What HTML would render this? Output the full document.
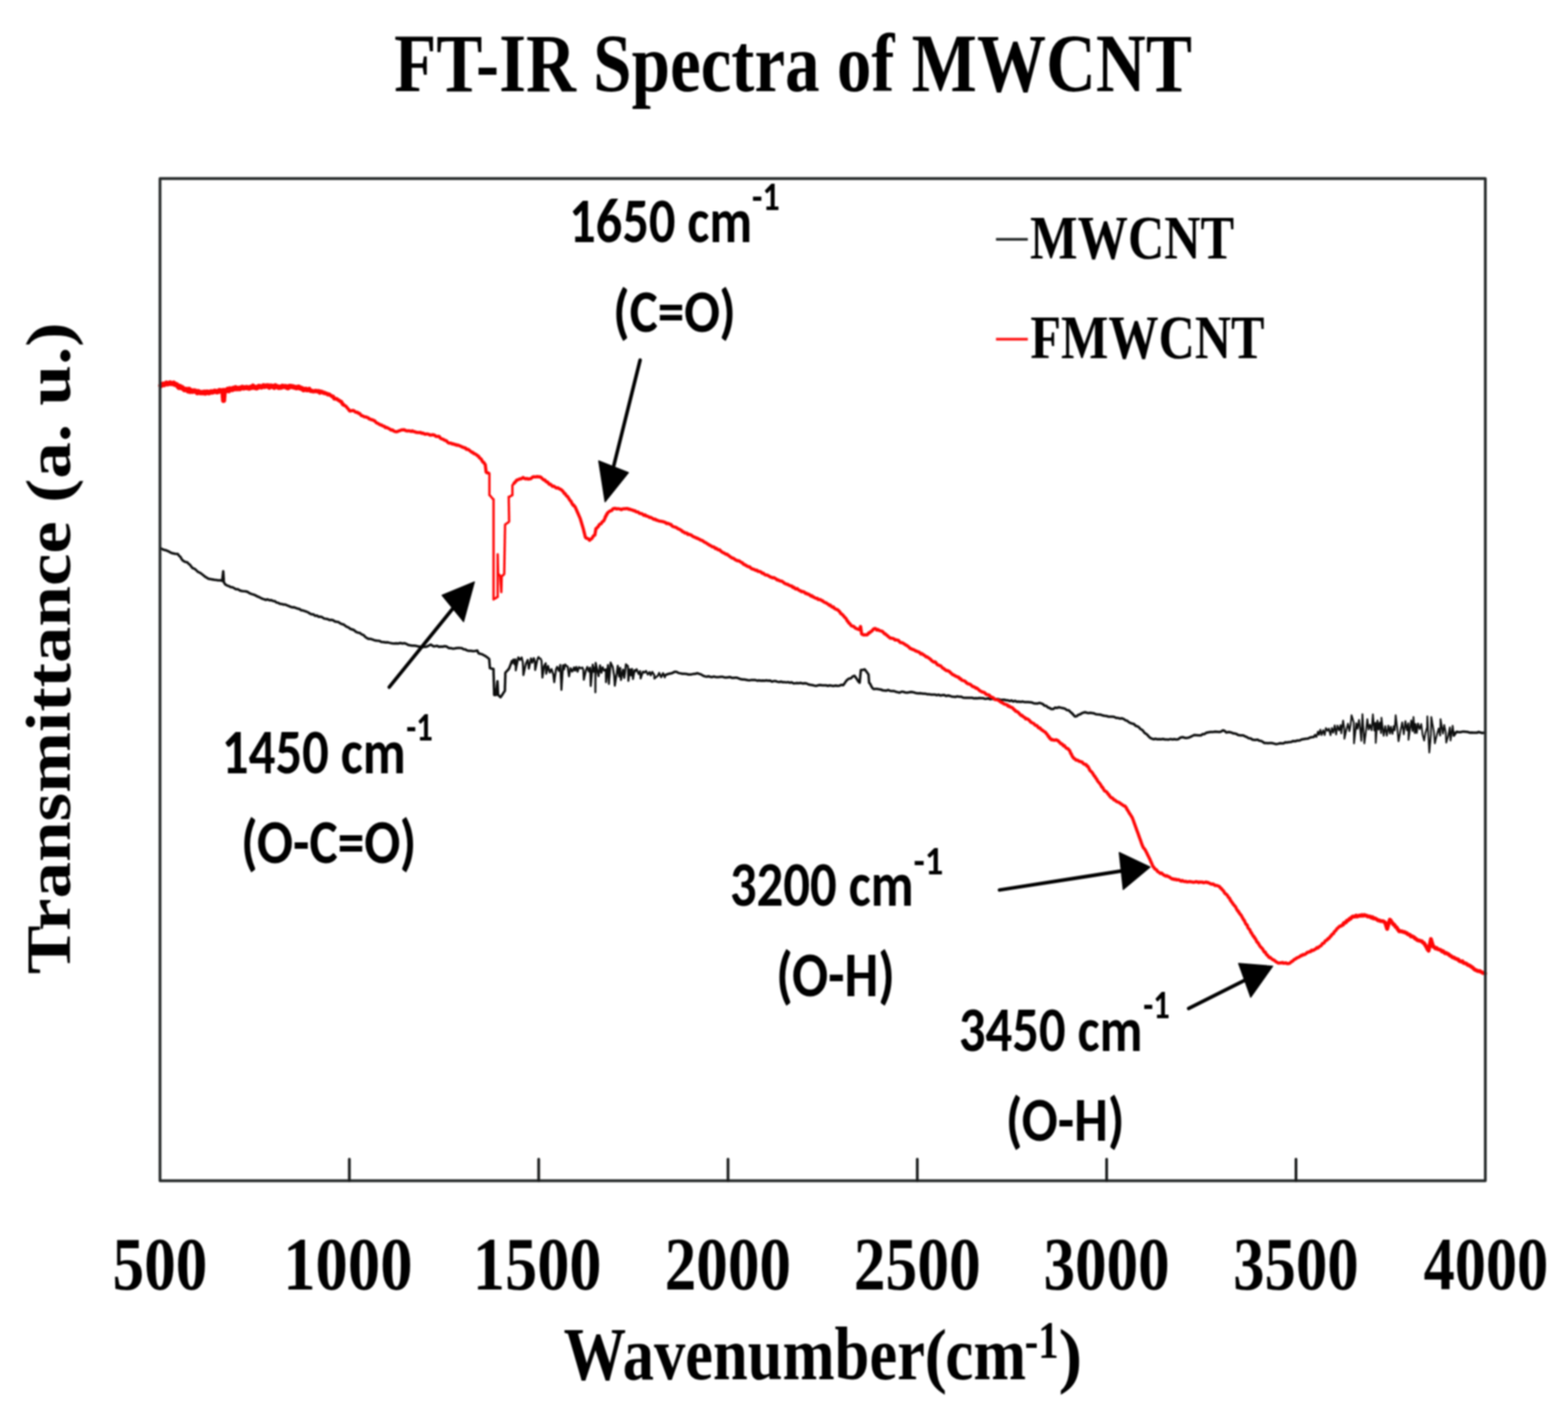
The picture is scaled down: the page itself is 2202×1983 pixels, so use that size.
<!DOCTYPE html><html><head><meta charset="utf-8"><title>FT-IR Spectra of MWCNT</title><style>html,body{margin:0;padding:0;background:#fff;overflow:hidden;}svg{display:block;}#wrap{filter:blur(1px);width:2202px;height:1983px;}</style></head><body><div id="wrap">
<svg width="2202" height="1983" viewBox="0 0 2202 1983">
<rect id="bg" x="0" y="0" width="2202" height="1983" fill="#fff"/>
<g id="curves" fill="none" stroke-linejoin="round" stroke-linecap="round">
<g id="black" stroke="#0c0d0d">
<polyline points="225.2,769.7 227.6,771.0 230.1,772.2 232.5,772.6 235.0,773.7 237.4,774.7 239.9,776.2 242.3,777.1 246.0,777.7 249.7,777.9 251.6,780.7 253.4,782.1 255.2,785.4 257.1,787.5 260.1,789.1 263.0,789.7 264.9,791.8 266.8,793.2 268.6,795.6 270.5,797.9 272.9,798.7 275.2,800.4 277.6,802.9 279.9,804.0 282.3,805.3 284.4,807.0 286.5,808.7 288.5,810.3 290.6,811.4 292.7,812.7 295.5,813.3 298.2,813.7 301.0,814.3 303.7,814.5 306.5,815.1 309.2,814.9 312.0,815.7 312.3,813.0 312.6,810.3 312.9,807.7 313.2,805.0 313.5,802.3 313.7,804.9 313.8,807.5 314.0,810.1 314.2,812.8 314.3,815.4 314.5,818.0 316.5,820.9 319.0,822.3 321.4,823.1 323.9,824.6 326.4,824.8 328.8,826.0 331.3,827.6 334.0,827.6 336.8,829.2 339.5,830.0 342.2,830.3 345.0,830.5 347.7,831.3 350.0,832.8 352.3,833.8 354.6,834.6 356.9,835.2 359.2,836.4 361.5,837.6 363.8,838.5 366.1,839.7 368.4,840.9 370.9,841.6 373.4,842.5 375.9,841.8 378.3,843.0 380.8,842.8 383.3,843.9 385.8,844.2 388.2,846.1 390.7,846.6 393.2,848.0 395.6,848.2 398.1,849.1 400.6,849.0 403.1,850.2 405.6,851.1 408.0,852.2 410.5,852.9 413.0,852.8 415.5,853.8 417.9,854.7 420.4,855.2 422.9,857.0 425.3,857.3 427.8,858.2 430.3,859.0 432.7,860.0 435.2,861.7 437.7,862.8 440.2,862.8 442.6,864.8 445.1,864.4 447.6,866.3 450.1,866.1 452.5,866.8 455.0,868.6 457.5,869.1 460.0,869.4 462.6,870.7 465.1,870.6 467.7,871.0 470.2,872.7 472.8,873.3 475.3,873.6 477.7,875.4 480.1,876.5 482.5,876.9 485.0,879.0 487.4,880.4 489.8,881.3 492.2,883.3 494.6,884.0 497.3,885.0 499.9,887.4 502.6,888.4 505.2,888.8 507.9,890.9 510.4,891.8 512.8,894.3 515.3,896.1 517.8,897.3 520.8,897.3 523.8,898.3 526.7,899.5 529.7,899.8 532.7,900.0 535.7,901.6 538.6,901.7 541.6,902.3 544.5,902.1 547.5,902.9 550.5,903.5 553.4,903.8 556.4,903.6 559.4,903.8 562.3,903.0 565.3,903.8 568.3,903.3 570.8,904.3 573.2,905.7 576.0,906.3 578.8,906.7 581.5,906.8 584.3,907.1 587.1,907.7 590.1,908.2 593.0,908.6 596.0,908.5 599.0,908.2 602.0,906.8 604.9,905.2 608.9,907.7 611.4,907.4 614.0,907.1 616.5,908.4 619.1,908.0 621.6,908.2 624.2,907.5 626.7,907.7 630.6,910.2 633.1,910.3 635.7,910.9 638.2,910.7 640.8,910.3 643.3,909.9 645.9,910.1 648.4,910.2 650.9,911.7 653.3,912.0 655.8,913.4 658.3,914.1 661.3,914.1 664.2,914.4 667.2,914.2 670.2,913.6 672.2,917.6 674.7,918.3 677.2,918.9 679.6,920.3 682.1,921.6 684.5,923.4 687.0,925.5 687.2,928.1 687.4,930.7 687.6,933.2 687.8,935.8 688.0,938.4 690.5,939.0 693.0,939.4 693.1,942.0 693.1,944.6 693.2,947.2 693.3,949.9 693.4,952.5 693.4,955.1 693.5,957.7 693.6,960.3 693.6,962.9 693.7,965.5 693.8,968.2 693.9,970.8 693.9,973.4 694.0,976.0 696.4,976.1 696.7,973.3 697.0,970.6 697.3,967.8 697.7,965.1 698.0,962.3 698.3,959.6 698.6,956.8 698.7,959.5 698.9,962.3 699.0,965.0 699.1,967.8 699.2,970.5 699.4,973.3 699.5,976.0 703.0,979.1 704.5,976.9 706.0,974.7 707.5,972.4 709.0,970.2 709.1,967.7 709.1,965.1 709.2,962.6 709.3,960.1 709.4,957.5 709.4,955.0 709.5,952.5 709.6,950.0 709.6,947.4 709.7,944.9 711.4,942.9 713.2,941.0 714.9,939.0 715.9,936.4 716.9,933.8 717.9,931.1 718.9,928.5 719.0,931.1" stroke-width="3.5"/>
<polyline points="718.9,928.5 719.0,931.1 720.1,928.6 721.1,926.1 721.9,929.6 722.7,933.1 723.4,929.5 724.0,925.9 724.1,928.5 724.1,931.1 724.2,933.7 724.2,936.4 724.3,939.0 724.3,941.6 724.8,939.0 725.3,936.3 725.8,933.7 726.4,931.0 726.9,928.4 727.4,925.8 727.9,923.1 730.2,926.8 732.6,923.3 733.4,926.8 734.2,930.2 734.3,932.8 734.5,935.3 734.6,937.9 734.7,940.4 734.8,943.0 734.9,945.5 735.0,948.1 735.6,945.4 736.2,942.7 736.8,940.0 737.4,937.3 738.0,934.6 738.6,931.9 739.8,929.3 741.1,926.7 741.4,929.2 741.8,931.7 742.1,934.2 742.4,936.7 742.7,939.2 743.3,936.3 743.9,933.4 744.5,930.5 745.1,927.6 745.7,924.7 746.7,927.7 747.6,930.7 748.6,927.5 749.6,924.3 751.2,929.0 751.3,932.0 751.4,935.0 751.5,938.0 751.6,941.0 752.2,938.3 752.8,935.6 753.3,932.9 753.9,930.2 754.5,927.5 755.1,924.9 756.3,922.6 756.5,924.5 759.0,924.8 760.5,928.0 760.6,930.6 760.8,933.2 760.9,935.9 761.0,938.5 761.2,941.1 761.3,943.8 761.4,946.4 761.6,949.1 761.7,951.7 762.1,949.0 762.5,946.4 762.9,943.7 763.3,941.0 763.7,938.4 764.0,935.7 766.3,931.4 766.4,934.4 766.6,937.3 766.7,940.3 766.9,943.3 767.0,946.3 767.7,943.6 768.4,940.8 769.0,938.1 769.7,935.3 770.5,938.4 771.3,941.4 772.1,944.5 773.3,942.1 774.5,939.7 775.3,942.1 776.1,944.5 777.0,946.9 777.3,949.7 777.6,952.6 778.0,955.4 778.3,958.2 778.7,955.6 779.0,952.9 779.4,950.3 779.8,947.7 780.2,945.1 780.5,942.4 780.9,939.8 782.4,936.5 783.6,939.3 784.8,942.2 785.5,939.4 786.2,936.6 786.9,933.8 787.0,936.3 787.1,938.8 787.2,941.3 787.3,943.8 787.4,946.3 787.5,948.8 787.6,951.3 787.8,953.8 787.9,956.4 788.0,958.9 788.1,961.4 788.2,963.9 788.3,966.4 788.4,968.9 788.6,966.2 788.8,963.5 788.9,960.9 789.1,958.2 789.3,955.5 789.5,952.8 789.6,950.1 789.8,947.5 790.0,944.8 790.2,942.1 790.3,939.4 790.5,936.7 790.7,934.1 791.4,937.1 792.1,940.2 792.9,936.6 793.7,933.1 795.5,935.3 797.2,936.1 797.6,938.8 797.9,941.6 798.3,944.4 798.7,947.1 799.1,949.9 799.6,947.0 800.1,944.2 800.7,941.3 801.2,938.4 802.5,940.7 803.7,943.1 804.9,940.2 806.1,937.3 807.5,941.9 808.4,939.2 809.3,936.6 810.2,940.0 811.1,943.4 812.1,940.1 813.1,936.9 815.5,938.5 817.9,937.5 819.2,940.7 819.3,943.5 819.5,946.3 819.6,949.1 819.8,951.8 819.9,954.6 820.5,951.9 821.1,949.2 821.8,946.5 822.4,943.8 823.0,941.0 824.8,936.6 825.9,939.8 826.9,943.0 827.8,940.3 828.7,937.6 828.8,940.2 828.9,942.7 829.0,945.3 829.1,947.9 829.2,950.5 829.3,953.1 829.3,955.7 829.4,958.2 829.5,960.8 829.6,963.4 829.8,960.9 830.1,958.4 830.3,955.9 830.5,953.4 830.8,950.9 831.0,948.4 831.3,945.9 831.5,943.4 831.7,940.9 832.0,938.4 832.2,935.9 832.4,933.4 832.8,935.9 833.2,938.4 833.6,940.9 834.0,943.4 835.0,939.9 836.0,936.5 836.0,939.1 836.0,941.6 836.0,944.2 836.0,946.7 836.1,949.3 836.1,951.8 836.1,954.4 836.1,957.0 836.1,959.5 836.1,962.1 836.1,964.6 836.1,967.2 836.1,969.7 836.1,972.3 836.1,969.7 836.1,967.1 836.2,964.5 836.2,961.9 836.2,959.3 836.2,956.7 836.3,954.1 836.3,951.5 836.3,949.0 836.4,946.4 836.4,943.8 836.4,941.2 836.4,938.6 836.5,936.0 836.5,933.4 836.5,930.8 837.1,933.5 837.7,936.2 838.3,938.9 838.9,941.6 839.4,944.3 840.0,947.0 840.6,949.7 841.0,947.1 841.3,944.6 841.6,942.1 842.0,939.5 842.3,937.0 842.7,934.5 843.1,937.1 843.6,939.7 844.1,942.3 844.6,944.9 845.2,942.4 845.7,939.8 846.3,937.2 847.4,939.6 848.6,941.9 850.8,939.9 850.9,942.5 850.9,945.0 850.9,947.6 850.9,950.2 851.0,952.8 851.0,955.4 851.0,958.0 851.3,955.3 851.6,952.6 851.9,950.0 852.2,947.3 852.6,944.6 852.9,941.9 853.2,939.2 853.5,936.6 853.8,933.9 853.9,936.5 854.1,939.2 854.2,941.9 854.3,944.5 854.4,947.2 854.6,949.8 854.7,952.5 854.8,955.2 855.0,957.8 855.1,960.5 855.3,957.9 855.5,955.2 855.7,952.6 856.0,950.0 856.2,947.3 856.4,944.7 856.6,942.1 856.8,939.4 857.0,936.8 857.2,934.2 857.5,930.5 859.0,933.6 860.5,936.8 860.9,939.4 861.3,942.0 861.7,944.6 862.2,947.3 862.6,949.9 862.7,952.5 862.9,955.1 863.1,957.8 863.2,960.4 863.4,963.0 863.8,960.5 864.2,958.0 864.6,955.4 865.0,952.9 865.4,950.4 865.8,947.9 866.2,945.4 866.5,942.8 866.9,940.1 867.2,937.5 867.6,934.9 867.9,937.5 868.2,940.0 868.6,942.5 868.9,945.0 869.2,947.6 869.6,950.1 869.9,947.1 870.3,944.0 870.6,941.0 871.0,937.9 871.1,940.8 871.3,943.6 871.5,946.5 871.7,949.3 871.8,952.2 872.0,955.0 872.6,952.1 873.2,949.1 873.8,946.2 874.4,943.2 875.0,940.3 875.4,943.2 875.9,946.2 876.3,949.1 876.7,952.0 877.1,949.0 877.5,946.0 877.9,943.0 878.2,940.0 878.6,936.5 879.0,933.0 881.8,935.6 881.9,938.2 882.0,940.8 882.0,943.4 882.1,946.0 882.2,948.5 882.3,951.1 882.3,953.7 882.4,956.3 882.8,953.6 883.1,950.8 883.5,948.1 883.9,945.4 884.2,942.6 884.6,939.9 885.1,942.8 885.7,945.6 886.2,948.5 886.7,945.5 887.1,942.5 887.6,939.5 887.9,942.3 888.2,945.1 888.4,947.9 888.7,950.8 889.0,953.6 889.4,951.1 889.8,948.6 890.3,946.2 890.7,943.7 891.1,941.2 892.0,943.0 894.1,939.8 895.4,943.2 896.8,946.5 898.9,942.5 899.1,945.1 899.3,947.7 899.5,950.2 899.7,952.8 900.5,950.4 901.4,947.9 902.2,945.5 903.0,943.1 905.1,944.6 907.2,942.2 908.5,944.8 909.8,947.3 912.2,943.8 913.9,948.4 915.0,946.0 916.0,943.6 917.5,945.9 918.9,948.3 919.0,953.0 921.4,951.0 923.9,948.9 925.7,945.0 927.1,948.1 928.5,951.1 929.8,948.3 931.1,945.4 932.3,948.3 933.6,951.2 934.6,947.9 934.6,947.9" stroke-width="2.8"/>
<polyline points="934.6,947.9 934.6,947.9 937.1,947.0 939.6,946.2 942.1,945.8 944.6,945.0 947.1,943.6 949.9,943.5 952.7,945.1 955.5,945.6 958.3,946.2 961.1,946.3 963.9,946.4 966.7,947.2 969.2,947.3 971.7,946.9 974.2,946.4 976.7,946.3 979.2,945.4 981.9,946.3 984.5,947.1 987.2,948.9 989.9,949.9 992.4,950.4 994.9,949.7 997.4,950.6 999.9,950.9 1002.5,950.1 1005.0,950.7 1007.5,950.9 1010.0,950.7 1012.5,950.4 1015.0,950.6 1017.5,951.4 1020.0,951.6 1022.6,951.2 1025.1,950.8 1027.6,951.9 1030.1,952.0 1032.6,951.7 1035.1,951.8 1037.7,952.8 1040.2,953.8 1042.8,954.2 1045.3,954.2 1047.9,954.7 1050.4,955.2 1053.0,955.4 1055.6,954.9 1058.2,955.0 1060.8,955.1 1063.4,955.9 1065.9,955.5 1068.5,955.9 1071.1,955.7 1073.7,956.0 1076.3,955.5 1078.9,956.1 1081.4,955.7 1084.0,957.2 1086.5,956.6 1089.0,956.4 1091.5,957.4 1094.1,957.9 1096.6,957.2 1099.1,958.0 1101.6,957.9 1104.2,958.4 1106.7,957.9 1109.2,958.8 1111.8,958.2 1114.4,959.7 1116.9,959.6 1119.5,959.2 1122.1,959.4 1124.7,959.1 1127.2,959.9 1129.8,959.5 1132.4,959.7 1135.4,961.2 1138.3,961.8 1141.3,962.3 1144.0,962.9 1146.7,963.2 1149.3,962.3 1152.0,962.1 1154.7,962.4 1157.3,962.5 1160.0,962.5 1162.7,963.2 1165.4,962.5 1168.0,963.1 1170.7,963.4 1173.3,962.7 1176.0,963.3 1178.7,963.1 1181.3,961.8 1184.0,962.3 1185.8,960.1 1187.6,957.4 1189.4,955.2 1192.1,953.1 1194.7,952.7 1197.3,950.2 1200.0,949.0 1201.8,951.5 1203.6,954.1 1205.4,957.0 1207.2,958.8 1207.5,956.3 1207.7,953.7 1208.0,951.2 1208.2,948.6 1208.5,946.1 1208.7,943.5 1209.0,941.0 1211.7,940.8 1214.3,940.1 1216.1,942.3 1217.9,944.8 1219.7,947.2 1219.9,950.1 1220.1,953.0 1220.3,955.9 1220.5,958.8 1222.1,960.5 1223.7,963.9 1225.2,966.2 1226.8,967.7 1229.4,967.6 1232.0,967.5 1234.6,968.1 1237.2,968.5 1239.8,969.5 1242.3,969.7 1244.9,969.9 1247.5,969.0 1250.1,970.3 1252.7,970.4 1255.3,970.4 1257.9,971.5 1260.6,972.1 1263.3,972.8 1265.9,971.5 1268.6,971.6 1271.3,972.5 1274.0,972.7 1276.7,972.3 1279.3,971.8 1282.0,972.1 1284.7,972.8 1287.3,973.6 1290.0,973.8 1292.5,973.5 1295.0,974.1 1297.5,974.2 1300.1,974.3 1302.6,975.1 1305.1,974.9 1307.6,975.6 1310.2,975.4 1312.9,975.4 1315.5,976.4 1318.1,975.6 1320.8,976.8 1323.4,976.2 1326.0,976.1 1328.6,977.6 1331.3,976.7 1333.9,977.3 1336.5,978.2 1339.2,978.4 1341.8,978.7 1344.5,977.9 1347.1,978.6 1349.7,978.4 1352.4,979.8 1355.0,979.9 1357.7,979.9 1360.3,980.0 1362.8,980.1 1365.3,980.0 1367.8,980.8 1370.4,980.5 1372.9,980.8 1375.4,980.2 1377.9,980.5 1380.4,980.4 1382.9,981.4 1385.4,981.3 1388.0,980.8 1390.5,982.0 1393.0,981.3 1395.5,981.7 1398.0,981.8 1400.5,981.7 1403.0,982.2 1405.5,983.2 1408.0,982.8 1410.5,982.8 1413.0,983.5 1415.6,983.5 1418.1,984.6 1420.6,983.7 1423.1,985.2 1425.6,984.2 1428.1,985.6 1430.6,985.3 1433.2,985.8 1435.9,985.3 1438.5,985.9 1441.2,985.9 1443.8,986.0 1446.4,986.2 1449.1,986.6 1451.7,987.7 1454.4,987.9 1457.0,988.1 1459.7,987.1 1462.3,987.9 1464.6,988.9 1467.0,991.1 1469.3,991.2 1471.6,993.5 1474.0,994.2 1476.3,995.8 1479.0,995.8 1481.6,993.8 1484.2,994.3 1486.9,993.2 1489.7,993.9 1492.5,994.5 1495.3,995.1 1498.1,997.2 1500.9,997.6 1503.1,999.8 1505.3,1001.5 1507.5,1004.0 1509.7,1006.3 1512.0,1005.9 1514.4,1003.9 1516.8,1003.3 1519.1,1001.7 1521.5,1000.8 1523.8,1000.2 1526.3,1001.0 1528.8,1001.4 1531.3,1001.1 1533.8,1001.4 1536.3,1001.8 1538.8,1003.0 1541.2,1003.3 1543.7,1003.4 1546.2,1003.8 1548.7,1004.8 1551.2,1005.3 1553.7,1005.5 1556.4,1006.4 1559.2,1006.6 1561.9,1006.5 1564.6,1006.8 1567.4,1008.3 1570.1,1008.3 1572.8,1009.2 1575.6,1008.8 1578.3,1009.9 1580.6,1011.6 1583.0,1012.2 1585.3,1014.2 1587.7,1015.5 1590.0,1016.2 1592.4,1016.8 1594.7,1019.3 1597.1,1020.0 1599.4,1021.3 1601.4,1023.7 1603.4,1024.7 1605.3,1026.4 1607.3,1029.2 1609.3,1030.4 1611.2,1032.0 1613.2,1034.2 1615.2,1036.2 1617.6,1037.3 1620.0,1038.2 1622.6,1037.5 1625.3,1038.2 1627.9,1038.1 1630.6,1038.2 1633.2,1037.7 1635.9,1038.5 1638.5,1038.6 1641.2,1038.7 1643.8,1037.9 1646.5,1038.5 1649.1,1038.0 1651.8,1038.6 1654.4,1038.2 1658.0,1035.8 1661.0,1035.2 1664.0,1036.3 1666.9,1036.4 1669.9,1035.8 1672.3,1034.6 1674.6,1033.5 1677.0,1032.3 1680.2,1032.5 1683.3,1032.7 1686.5,1032.8 1688.9,1031.0 1691.2,1031.1 1693.6,1029.3 1696.8,1028.5 1699.9,1028.1 1703.1,1028.1 1706.3,1027.5 1709.4,1027.8 1712.6,1028.1 1715.0,1027.3 1717.4,1025.7 1719.8,1026.5 1722.1,1028.7 1725.7,1028.1 1729.3,1028.7 1731.7,1029.9 1734.0,1030.1 1736.4,1030.7 1738.8,1032.3 1742.3,1032.7 1745.9,1032.8 1748.5,1034.1 1751.1,1035.2 1753.7,1036.7 1756.3,1037.0 1758.9,1038.8 1762.5,1039.3 1766.1,1038.8 1768.5,1040.3 1770.8,1040.5 1773.2,1041.8 1775.6,1043.5 1778.2,1043.6 1780.8,1043.7 1783.4,1043.6 1786.0,1043.5 1788.6,1044.1 1792.2,1045.1 1794.7,1044.6 1797.3,1043.8 1799.8,1044.0 1802.4,1044.0 1804.9,1042.6 1807.5,1042.8 1810.0,1042.3 1813.0,1042.1 1816.0,1040.7 1818.9,1041.0 1821.9,1040.0 1824.9,1040.0 1827.8,1038.6 1830.8,1038.1 1833.8,1037.6 1836.6,1037.3 1839.3,1036.0 1842.1,1035.2 1845.0,1035.0 1847.0,1032.3" stroke-width="3.5"/>
<polyline points="1845.0,1035.0 1847.0,1032.3 1848.8,1035.0 1849.4,1032.5 1850.1,1030.0 1850.8,1027.5 1852.4,1032.1 1853.0,1029.7 1853.6,1027.2 1854.2,1024.7 1854.8,1027.3 1855.4,1029.8 1856.0,1032.4 1857.1,1028.9 1858.3,1025.5 1859.3,1029.0 1860.3,1032.4 1860.7,1029.9 1861.2,1027.4 1861.6,1024.9 1862.0,1022.4 1864.4,1026.4 1866.3,1023.2 1867.0,1026.3 1867.7,1029.4 1868.5,1032.5 1868.9,1030.0 1869.4,1027.5 1869.9,1025.0 1870.3,1022.5 1871.3,1025.8 1872.3,1029.1 1872.8,1026.5 1873.3,1023.9 1873.8,1021.3 1874.4,1018.7 1874.8,1021.3 1875.2,1023.9 1875.6,1026.5 1876.0,1029.1 1876.4,1031.6 1876.7,1029.1 1877.1,1026.5 1877.5,1024.0 1877.9,1021.4 1878.2,1018.9 1879.4,1022.3 1880.6,1025.8 1881.3,1023.3 1881.9,1020.8 1882.6,1018.3 1882.9,1021.2 1883.1,1024.1 1883.4,1027.1 1883.6,1030.0 1884.0,1027.4 1884.3,1024.8 1884.7,1022.3 1885.1,1019.7 1885.5,1017.1 1885.8,1014.5 1886.2,1011.9 1886.6,1014.9 1887.0,1017.8 1887.5,1020.8 1887.9,1023.7 1887.9,1026.5 1887.9,1029.2 1888.0,1032.0 1888.0,1034.7 1888.0,1037.5 1888.6,1034.6 1889.3,1031.7 1889.9,1028.8 1890.6,1025.9 1891.2,1023.0 1892.1,1019.7 1893.0,1016.3 1893.5,1019.0 1894.0,1021.6 1894.5,1024.2 1895.1,1026.9 1895.6,1024.0 1896.1,1021.0 1896.7,1018.1 1896.9,1015.4 1897.2,1012.6 1897.5,1009.9 1897.7,1007.1 1898.0,1004.4 1898.8,1006.9 1899.6,1009.4 1900.3,1011.9 1901.1,1014.5 1901.1,1017.1 1901.2,1019.8 1901.2,1022.5 1901.2,1025.2 1901.3,1027.9 1901.3,1030.6 1901.4,1033.3 1901.4,1035.9 1901.4,1038.6 1901.5,1041.3 1901.5,1044.0 1901.8,1041.4 1902.1,1038.9 1902.4,1036.3 1902.7,1033.7 1903.0,1031.1 1903.3,1028.6 1903.6,1026.0 1903.9,1023.4 1904.2,1020.8 1904.5,1018.3 1904.8,1015.7 1905.3,1018.3 1905.8,1020.9 1906.4,1023.5 1906.8,1020.9 1907.2,1018.4 1907.7,1015.9 1908.1,1013.4 1908.5,1010.9 1908.8,1013.6 1909.2,1016.3 1909.5,1019.1 1909.8,1021.8 1910.2,1024.5 1910.5,1027.3 1910.7,1029.9 1911.0,1032.6 1911.2,1035.2 1911.5,1037.9 1911.7,1040.5 1911.8,1038.0 1911.9,1035.5 1912.0,1033.0 1912.1,1030.5 1912.2,1028.0 1912.3,1025.5 1912.4,1023.0 1912.6,1020.5 1912.7,1018.0 1912.8,1015.5 1912.9,1013.0 1913.0,1010.5 1913.1,1008.0 1913.2,1005.5 1913.3,1003.0 1913.5,1005.6 1913.6,1008.1 1913.8,1010.7 1914.0,1013.2 1914.1,1015.8 1914.3,1018.4 1914.5,1020.9 1914.7,1023.5 1914.8,1026.1 1915.0,1028.6 1915.2,1031.2 1915.3,1033.8 1915.5,1036.3 1915.7,1038.9 1915.8,1041.4 1916.0,1044.0 1916.3,1041.5 1916.7,1038.9 1917.0,1036.4 1917.4,1033.9 1917.7,1031.3 1918.0,1028.8 1918.3,1026.1 1918.7,1023.4 1919.0,1020.8 1919.3,1018.1 1919.6,1015.4 1919.9,1012.7 1920.2,1010.0 1920.6,1013.0 1921.0,1015.9 1921.3,1018.8 1921.7,1021.7 1922.0,1024.6 1923.0,1021.2 1923.9,1017.8 1924.7,1020.4 1925.4,1023.0 1926.2,1025.6 1926.4,1022.8 1926.6,1020.0 1926.9,1017.2 1927.1,1014.4 1927.3,1011.6 1927.5,1008.9 1927.8,1006.1 1928.0,1003.3 1928.2,1005.8 1928.4,1008.3 1928.7,1010.9 1928.9,1013.4 1929.1,1015.9 1929.3,1018.4 1929.6,1021.0 1929.8,1023.5 1930.0,1026.0 1930.4,1023.2 1930.8,1020.5 1931.2,1017.7 1931.6,1014.9 1931.6,1017.5 1931.6,1020.1 1931.7,1022.7 1931.7,1025.3 1931.8,1027.8 1931.8,1030.4 1931.8,1033.0 1931.9,1035.6 1931.9,1038.2 1932.0,1040.8 1932.0,1043.4 1932.2,1040.8 1932.4,1038.1 1932.6,1035.5 1932.8,1032.9 1933.0,1030.2 1933.2,1027.6 1933.4,1025.0 1933.6,1022.3 1933.8,1019.7 1934.0,1017.0 1934.2,1014.4 1934.4,1011.8 1934.7,1014.4 1935.0,1017.0 1935.3,1019.6 1935.7,1022.1 1936.0,1024.7 1936.4,1022.2 1936.8,1019.7 1937.2,1017.1 1937.6,1014.6 1937.9,1017.1 1938.2,1019.6 1938.5,1022.1 1938.8,1024.6 1939.1,1027.1 1939.4,1029.6 1939.5,1026.9 1939.5,1024.2 1939.6,1021.5 1939.7,1018.8 1939.8,1016.1 1939.8,1013.4 1939.9,1010.7 1940.0,1008.0 1940.3,1010.5 1940.6,1013.1 1940.9,1015.6 1941.2,1018.1 1941.6,1020.7 1941.9,1023.2 1942.2,1025.7 1942.5,1028.2 1942.8,1030.8 1943.1,1033.3 1943.6,1030.6 1944.0,1027.8 1944.5,1025.1 1944.9,1022.4 1945.4,1019.6 1945.8,1022.4 1946.2,1025.1 1946.7,1027.8 1947.1,1030.5 1947.6,1033.2 1948.0,1030.4 1948.4,1027.5 1948.9,1024.7 1949.3,1021.8 1949.7,1018.9 1950.3,1021.8 1950.8,1024.6 1951.4,1027.4 1951.9,1030.2 1952.4,1027.0 1952.8,1023.8 1953.3,1020.5 1953.8,1023.1 1954.4,1025.6 1955.0,1028.1 1955.6,1030.7 1956.0,1027.9 1956.4,1025.2 1956.8,1022.5 1957.2,1019.7 1957.9,1022.7 1958.6,1025.7 1958.8,1023.1 1959.0,1020.4 1959.1,1017.7 1959.3,1015.1 1959.5,1012.4 1959.7,1009.7 1959.8,1007.1 1960.0,1004.4 1960.3,1007.0 1960.6,1009.5 1960.9,1012.1 1961.2,1014.6 1961.5,1017.2 1961.9,1019.8 1962.2,1022.3 1962.5,1024.9 1962.7,1027.6 1963.0,1030.3 1963.2,1032.9 1963.5,1035.6 1963.7,1038.3 1964.0,1041.0 1964.5,1038.4 1965.0,1035.7 1965.5,1033.1 1966.0,1030.5 1966.4,1027.8 1966.9,1025.2 1967.5,1022.5 1968.1,1019.9 1968.6,1017.2 1969.2,1014.5 1969.6,1017.3 1969.9,1020.1 1970.3,1022.9 1970.7,1025.7 1971.0,1028.5 1971.4,1031.3 1971.7,1028.6 1972.0,1026.0 1972.4,1023.3 1972.7,1020.7 1973.0,1018.0 1973.3,1015.3 1973.7,1012.7 1974.1,1015.3 1974.6,1017.9 1975.0,1020.5 1975.4,1023.1 1975.9,1025.8 1976.4,1023.2 1976.9,1020.7 1977.4,1018.1 1977.9,1015.6 1978.0,1018.2 1978.0,1020.8 1978.0,1023.4 1978.0,1026.0 1978.0,1028.6 1978.0,1031.2 1978.0,1033.8 1978.0,1036.4 1978.0,1039.0 1978.4,1036.3 1978.8,1033.6 1979.2,1030.9 1979.5,1028.1 1979.9,1025.4 1980.3,1022.7 1980.7,1020.0 1981.1,1017.3 1981.5,1014.6 1981.8,1011.8 1982.2,1014.3 1982.5,1016.8 1982.8,1019.3 1983.1,1021.8 1983.4,1024.3 1983.8,1026.8 1983.9,1023.9 1984.1,1021.1 1984.3,1018.3 1984.5,1015.5 1984.6,1012.6 1984.8,1009.8 1985.0,1007.0 1985.2,1009.5 1985.4,1012.0 1985.6,1014.5 1985.8,1017.0 1986.0,1019.5 1986.2,1022.1 1986.4,1024.6 1986.6,1027.1 1986.8,1029.6 1987.0,1027.0 1987.3,1024.4 1987.6,1021.8 1987.9,1019.2 1988.1,1016.6 1988.4,1019.2 1988.7,1021.8 1989.0,1024.4 1989.3,1027.0 1989.6,1029.6 1990.0,1026.9 1990.3,1024.1 1990.7,1021.4 1991.1,1018.6 1991.4,1015.9 1992.2,1018.5 1992.9,1021.2 1993.7,1023.9 1994.4,1021.5 1995.2,1019.1 1995.9,1016.8 1996.2,1019.3 1996.6,1021.8 1996.9,1024.3 1997.2,1026.9 1997.5,1029.4 1997.8,1031.9 1998.6,1034.6 1999.3,1037.3 2000.0,1040.0 2000.4,1037.3 2000.9,1034.6 2001.3,1031.9 2001.8,1029.2 2002.6,1026.6 2003.3,1024.0 2004.1,1021.5 2004.2,1018.9 2004.2,1016.3 2004.3,1013.7 2004.4,1011.2 2004.4,1008.6 2004.5,1006.0 2004.6,1008.5 2004.8,1011.1 2004.9,1013.6 2005.0,1016.2 2005.2,1018.8 2005.3,1021.3 2005.4,1023.9 2005.6,1026.4 2005.7,1029.0 2005.8,1031.5 2006.0,1034.0 2006.1,1036.6 2006.3,1039.2 2006.4,1041.7 2006.5,1044.2 2006.7,1046.8 2006.8,1049.3 2006.9,1051.9 2007.1,1054.5 2007.2,1057.0 2007.4,1054.5 2007.7,1052.0 2007.9,1049.5 2008.1,1047.0 2008.3,1044.5 2008.6,1042.0 2008.8,1039.5 2009.0,1037.0 2009.2,1034.5 2009.5,1032.0 2009.5,1029.2 2009.6,1026.4 2009.6,1023.7 2009.7,1020.9 2009.8,1018.1 2009.8,1015.3 2009.9,1012.6 2009.9,1009.8 2010.0,1007.0 2010.5,1009.7 2011.0,1012.5 2011.4,1015.2 2011.9,1018.0 2012.4,1020.7 2012.9,1023.5 2013.4,1026.2 2013.8,1029.0 2014.0,1031.5 2014.2,1034.0 2014.4,1036.5 2014.6,1039.0 2014.8,1041.5 2015.0,1044.0 2015.6,1041.4 2016.2,1038.8 2016.8,1036.3 2017.5,1033.7 2018.1,1031.1 2018.8,1028.4 2019.6,1025.8 2020.4,1023.1 2020.9,1025.6 2021.4,1028.1 2021.9,1030.6 2022.5,1033.1 2022.5,1030.5 2022.6,1028.0 2022.6,1025.4 2022.7,1022.8 2022.8,1020.3 2022.8,1017.7 2022.9,1015.1 2022.9,1012.6 2023.0,1010.0 2023.4,1012.5 2023.8,1015.1 2024.3,1017.6 2024.7,1020.1 2025.1,1022.7 2025.5,1025.2 2025.9,1027.7 2026.4,1030.3 2026.8,1027.3 2027.3,1024.3 2027.7,1021.2 2028.2,1018.2 2028.7,1020.8 2029.3,1023.5 2029.8,1026.1 2030.3,1028.7 2030.5,1031.6 2030.6,1034.4 2030.7,1037.3 2030.9,1040.1 2031.0,1043.0 2031.7,1040.5 2032.4,1038.0 2033.2,1035.6 2033.9,1033.1 2034.4,1030.1 2035.0,1027.2 2035.5,1024.3 2036.1,1021.4 2036.2,1024.0 2036.4,1026.7 2036.5,1029.3 2036.6,1032.0 2036.7,1034.7 2036.9,1037.3 2037.0,1040.0 2037.4,1037.4 2037.8,1034.8 2038.1,1032.2 2038.5,1029.7 2038.9,1027.1 2039.3,1024.5 2039.7,1021.9 2040.0,1019.3 2040.4,1022.1 2040.7,1024.8 2041.0,1027.6 2041.3,1030.3 2041.6,1033.1" stroke-width="2.4"/>
<polyline points="2041.0,1027.6 2041.3,1030.3 2041.6,1033.1 2043.7,1030.2 2045.8,1027.6 2048.4,1028.3 2050.9,1028.2 2053.5,1027.6 2056.1,1027.6 2058.7,1027.8 2061.2,1028.0 2063.8,1028.9 2066.4,1028.7 2069.0,1029.0 2071.5,1028.9 2074.1,1029.0 2076.7,1028.0 2079.3,1028.8 2081.8,1029.5 2084.4,1028.9 2085.7,1028.9" stroke-width="3.5"/>
</g>
<g id="red" stroke="#ff0606">
<polyline points="225.9,541.6 227.4,540.5 228.9,539.5 230.4,540.3 231.9,539.3 233.6,538.0 235.4,539.2 237.1,538.6 238.8,537.6 240.6,538.7 242.3,538.6 243.8,538.0 245.2,539.9 246.7,539.6 248.2,540.4 249.7,542.1 251.2,543.9 252.6,542.7 254.1,544.5 255.7,544.2 257.4,545.9 259.0,547.3 260.7,546.8 262.3,546.8 263.9,549.0 265.6,546.9 267.2,549.7 268.9,548.6 270.5,549.7 272.1,548.9 273.7,549.0 275.4,549.8 277.0,551.4 278.6,549.9 280.2,551.2 281.8,551.6 283.4,551.0 285.1,551.7 286.7,550.6 288.3,552.0 289.9,550.5 291.6,550.7 293.2,551.7 294.9,550.8 296.5,550.2 298.2,550.7 299.8,550.1 301.5,549.4 303.1,549.7 304.8,550.3 306.4,549.9 308.1,548.4 309.7,549.1 311.4,548.8 313.0,548.5 313.1,550.2 313.2,552.0 313.4,553.7 313.5,555.4 313.6,557.1 313.8,558.8 313.9,560.6 314.0,562.3 314.1,560.5 314.2,558.8 314.4,557.0 314.5,555.3 314.6,553.5 314.8,551.8 314.9,550.0 315.0,548.3 316.6,549.1 318.2,548.4 319.7,546.9 321.3,548.6 322.9,546.0 324.5,546.6 326.1,547.2 327.6,545.3 329.2,546.0 330.8,544.5 332.4,546.0 334.0,546.0 335.5,545.2 337.1,545.8 338.7,544.5 340.3,543.9 342.0,544.9 343.6,544.5 345.3,544.4 346.9,544.0 348.6,545.0 350.2,545.2 351.9,543.8 353.5,544.2 355.2,542.4 356.8,544.1 358.5,543.9 360.1,544.8 361.8,544.2 363.4,542.6 365.1,542.8 366.8,543.6 368.4,543.0 370.0,541.7 371.7,542.9 373.3,542.1 375.0,541.9 376.6,541.8 378.3,543.8 379.9,542.0 381.6,542.3 383.2,542.7 384.9,544.0 386.6,541.8 388.2,542.9 389.9,543.1 391.5,544.1 393.2,543.9 394.8,544.0 396.5,542.4 398.1,543.0 399.8,542.9 401.4,542.8 403.1,544.3 404.7,544.6 406.4,542.5 408.0,542.6 409.7,542.9 411.3,543.0 413.0,543.8 414.6,544.0 416.3,544.6 417.9,544.0 419.6,543.6 421.2,545.0 422.9,545.2 424.6,546.0 426.2,547.4 427.9,546.9 429.5,546.7 431.1,547.3 432.8,547.8 434.4,546.3 436.1,549.0 437.8,548.9 439.4,549.5 441.1,549.5 442.7,549.0 444.3,549.2 445.9,549.7 447.6,549.3 449.2,551.3 450.8,550.1 452.4,550.6 454.0,551.5 455.6,551.8 457.3,552.8 458.9,552.5 460.5,554.2 462.0,553.6 463.5,554.8 464.9,555.5 466.4,557.0 467.9,556.9 469.4,560.0 470.9,560.0 472.4,560.0 473.9,561.0 475.3,562.0 476.8,562.8 478.3,563.8 479.5,564.4 480.7,566.8 481.9,568.2 483.1,568.6 484.3,569.9 485.6,570.4 486.8,571.7 488.0,573.3 489.2,574.4 490.4,576.5 491.6,577.2 493.6,576.7 495.6,576.4 497.6,577.2 499.1,578.8 500.6,578.9 502.0,579.1 503.5,580.6 505.0,580.6 506.4,582.3 507.9,583.8 509.4,583.9 510.9,585.1 512.5,585.5 514.0,585.5 515.5,586.3 517.0,586.7 518.6,588.3 520.1,588.6 521.6,589.6 523.2,589.6 524.7,590.5 526.1,590.9 527.5,592.6 528.8,593.8 530.2,594.4 531.6,595.1 533.0,596.0 534.3,596.7 535.7,596.7 537.1,598.0 538.5,598.5 539.8,598.8 541.2,600.4 542.9,600.2 544.5,601.2 546.2,601.8 547.8,603.0 549.5,604.0 551.1,603.8 552.8,605.2 554.4,605.8 556.1,606.3 557.7,606.2 559.3,605.5 561.0,604.8 562.6,604.3 564.3,603.7 565.9,603.7 567.5,603.5 569.2,604.4 570.9,605.1 572.5,605.2 574.1,604.9 575.8,605.4 577.4,605.9 579.1,605.0 580.8,606.2 582.4,606.2 584.0,607.2 585.7,607.3 587.4,607.6 589.0,607.4 590.6,607.3 592.3,608.6 593.9,608.2 595.6,609.2 597.2,609.8 598.9,609.4 600.5,609.6 602.2,609.9 603.9,611.1 605.5,611.1 607.1,610.5 608.8,610.8 610.4,611.2 612.1,612.7 613.8,612.9 615.4,612.7 616.9,613.1 618.3,615.1 619.8,616.2 621.3,616.6 622.7,617.1 624.2,618.3 625.7,618.6 627.1,619.3 628.6,621.0 630.2,622.2 631.9,622.2 633.5,622.5 635.2,623.6 636.8,623.3 638.5,624.4 640.1,624.3 641.6,625.4 643.1,625.0 644.6,625.7 646.1,626.4 647.6,626.9 649.1,628.0 650.6,628.1 652.1,629.0 653.6,629.1 655.1,631.0 656.6,630.9 658.1,631.6 659.5,632.7 661.0,633.8 662.5,635.2 663.9,635.3 665.4,637.0 666.9,637.3 668.3,638.2 669.8,639.1 671.0,640.4 672.2,640.9 673.3,642.9 674.5,643.8 675.7,644.8 676.9,646.9 678.0,648.8 679.2,649.3 680.4,651.2 681.5,652.7 681.7,654.4 681.9,656.2 682.1,657.9 682.3,659.6 682.5,661.4 682.7,663.1 684.2,664.0 685.8,664.3" stroke-width="4.5"/>
<polyline points="684.2,664.0 685.8,664.3 687.3,664.8 687.3,666.4 687.3,668.0 687.3,669.6 687.3,671.2 687.3,672.9 687.3,674.5 687.3,676.1 687.3,677.7 687.3,679.3 687.3,680.9 687.3,682.5 687.3,684.1 687.3,685.7 687.3,687.3 687.3,689.0 687.3,690.6 687.3,692.2 687.3,693.8 687.3,695.4 688.5,696.3 689.6,697.7 690.8,699.0 691.9,700.5 693.1,701.2 693.1,702.8 693.1,704.4 693.1,706.1 693.1,707.7 693.1,709.3 693.1,710.9 693.1,712.5 693.1,714.1 693.1,715.8 693.1,717.4 693.1,719.0 693.1,720.6 693.1,722.2 693.1,723.8 693.1,725.5 693.1,727.1 693.1,728.7 693.1,730.3 693.1,731.9 693.1,733.5 693.1,735.2 693.1,736.8 693.1,738.4 693.1,740.0 693.1,741.6 693.1,743.2 693.1,744.9 693.1,746.5 693.1,748.1 693.1,749.7 693.1,751.3 693.1,753.0 693.1,754.6 693.1,756.2 693.1,757.8 693.1,759.4 693.1,761.0 693.1,762.7 693.1,764.3 693.1,765.9 693.1,767.5 693.1,769.1 693.1,770.7 693.1,772.4 693.1,774.0 693.1,775.6 693.1,777.2 693.1,778.8 693.1,780.4 693.1,782.1 693.1,783.7 693.1,785.3 693.1,786.9 693.1,788.5 693.1,790.1 693.1,791.8 693.1,793.4 693.1,795.0 693.1,796.6 693.1,798.2 693.1,799.9 693.1,801.5 693.1,803.1 693.1,804.7 693.1,806.3 693.1,807.9 693.1,809.6 693.1,811.2 693.1,812.8 693.1,814.4 693.1,816.0 693.1,817.6 693.1,819.3 693.1,820.9 693.1,822.5 693.1,824.1 693.1,825.7 693.1,827.3 693.1,829.0 693.1,830.6 693.1,832.2 693.1,833.8 693.1,835.4 693.1,837.0 693.1,838.7 693.1,840.3 693.1,841.9 694.5,840.4 696.0,840.3 697.5,838.9 698.9,838.5 698.9,836.9 698.9,835.3 698.9,833.6 698.9,832.0 698.9,830.4 698.9,828.8 698.9,827.1 698.9,825.5 698.9,823.9 698.9,822.3 698.9,820.7 698.9,819.0 698.9,817.4 698.9,815.8 698.9,814.2 698.9,812.6 698.9,810.9 698.9,809.3 698.9,807.7 698.9,806.1 698.9,804.4 698.9,802.8 698.9,801.2 698.9,799.6 698.9,798.0 698.9,796.3 698.9,794.7 698.9,793.1 698.9,791.5 698.9,789.9 698.9,788.2 698.9,786.6 698.9,785.0 698.9,783.4 698.9,781.7 698.9,780.1 698.9,778.5 698.9,780.1 699.0,781.7 699.0,783.4 699.0,785.0 699.1,786.6 699.1,788.2 699.1,789.8 699.2,791.4 699.2,793.1 699.3,794.7 699.3,796.3 699.3,797.9 699.4,799.5 699.4,801.1 699.4,802.8 699.5,804.4 699.5,806.0 701.0,807.1 702.5,809.0 702.6,810.6 702.7,812.2 702.8,813.8 702.9,815.4 703.0,817.0 703.1,818.6 703.2,820.2 703.4,821.9 703.5,823.5 703.6,825.1 703.7,826.7 703.8,828.3 703.9,829.9 704.0,831.5 704.0,829.9 704.1,828.3 704.1,826.7 704.2,825.1 704.2,823.5 704.3,821.9 704.3,820.2 704.3,818.6 704.4,817.0 704.4,815.4 704.5,813.8 704.5,812.2 704.6,810.6 704.6,809.0 706.4,808.0 708.1,806.2 708.1,804.6 708.2,803.0 708.2,801.4 708.2,799.8 708.2,798.1 708.3,796.5 708.3,794.9 708.3,793.3 708.4,791.7 708.4,790.1 708.4,788.5 708.4,786.9 708.5,785.2 708.5,783.6 708.5,782.0 708.5,780.4 708.6,778.8 708.6,777.2 708.6,775.6 708.7,774.0 708.7,772.4 708.7,770.7 708.7,769.1 708.8,767.5 708.8,765.9 708.8,764.3 708.9,762.7 708.9,761.1 708.9,759.5 708.9,757.9 709.0,756.2 709.0,754.6 709.0,753.0 709.0,751.4 709.1,749.8 709.1,748.2 709.1,746.6 709.2,745.0 709.2,743.3 709.2,741.7 709.2,740.1 709.3,738.5 709.3,736.9 710.7,735.8 712.1,734.7 713.6,733.9 715.0,732.3 715.0,730.7 714.9,729.0 714.9,727.4 714.9,725.7 714.9,724.1 714.8,722.4 714.8,720.8 714.8,719.1 714.7,717.5 714.7,715.8 714.7,714.2 714.7,712.5 714.6,710.9 714.6,709.2 714.6,707.6 714.5,705.9 714.5,704.3 714.5,702.6 714.5,701.0 714.4,699.3 714.4,697.7 716.1,697.6 717.9,696.1 719.6,695.4 719.6,693.7 719.6,691.9 719.6,690.2 719.6,688.5 719.6,686.7 719.6,685.0 719.6,683.2 719.6,681.5 720.8,680.3 721.9,678.7" stroke-width="3.3"/>
<polyline points="721.9,678.7 723.1,677.4 724.2,676.3 725.4,674.6 726.9,673.9 728.5,673.3 730.0,672.6 731.5,672.6 733.1,671.6 734.6,670.6 736.4,671.8 738.1,672.5 739.9,671.9 741.6,672.9 743.1,672.5 744.7,672.5 746.2,671.8 747.7,670.2 749.3,669.6 750.8,669.7 752.6,669.7 754.4,669.3 756.1,669.7 757.9,669.6 759.7,670.4 761.0,671.7 762.4,672.9 763.7,674.1 765.1,673.9 766.4,675.8 767.8,676.8 769.1,677.0 770.5,679.2 771.8,680.3 773.2,680.1 774.5,681.6 776.0,683.0 777.5,682.7 779.0,683.5 780.5,685.0 781.9,685.4 783.4,685.0 784.9,686.1 786.4,686.9 787.9,687.5 789.1,688.6 790.2,689.7 791.4,691.2 792.5,693.1 793.7,693.3 794.8,695.5 796.0,696.7 797.1,697.3 798.3,699.4 799.2,700.5 800.2,702.3 801.1,703.5 802.1,704.1 803.0,706.9 804.0,707.9 804.9,709.6 805.9,709.5 806.8,711.1 807.8,712.1 808.7,714.2 809.4,715.7 810.0,717.2 810.7,718.7 811.3,720.2 812.0,721.6 812.6,723.1 813.3,724.6 813.9,726.1 814.6,727.6 815.1,729.2 815.6,730.9 816.1,732.5 816.6,734.2 817.1,735.8 817.6,737.5 818.1,739.1 818.6,740.8 819.1,742.4 819.5,744.1 819.9,745.8 820.3,747.5 820.8,749.2 821.2,750.9 821.6,752.6 822.0,754.3 823.5,755.8 825.0,756.1 826.5,757.0 828.0,758.7 829.2,757.3 830.5,756.9 831.7,755.5 832.9,753.4 834.2,752.0 835.4,751.3 835.7,749.5 836.0,747.7 836.3,746.0 836.6,744.2 836.9,742.4 838.1,741.9 839.2,740.2 840.4,739.3 841.5,737.1 842.7,735.9 843.8,735.8 845.0,734.2 846.1,732.5 847.3,732.0 848.0,731.2 848.8,729.3 849.5,728.1 850.2,725.4 851.0,725.2 851.7,722.5 852.5,722.3 853.2,720.2 854.7,719.1 856.2,717.9 857.7,717.3 859.1,716.9 860.6,714.8 862.1,714.2 863.8,713.9 865.6,714.7 867.3,714.5 869.0,714.6 870.8,714.9 872.5,715.7 874.3,714.7 876.1,714.6 877.8,714.5 879.6,714.2 881.4,714.2 883.1,715.3 884.8,715.1 886.5,716.1 888.2,716.3 889.9,717.2 891.6,717.3 893.3,718.7 894.9,718.9 896.4,719.2 898.0,720.9 899.6,721.3 901.1,721.3 902.7,722.4 904.2,723.7 905.8,723.0 907.4,724.8 908.9,724.8 910.5,725.5 912.1,726.7 913.6,726.6 915.2,727.4 916.7,728.3 918.3,729.4 919.9,729.0 921.4,730.4 923.0,730.5 924.6,731.4 926.2,731.8 927.9,732.0 929.5,732.4 931.1,732.5 932.7,733.2 934.3,733.6 935.9,735.2 937.6,735.0 939.2,735.4 940.8,736.5 942.3,736.6 943.8,738.6 945.3,739.5 946.7,740.0 948.2,740.2 949.7,740.9 951.2,741.8 952.7,742.8 954.2,743.2 955.6,744.4 957.1,744.9 958.6,746.8 960.1,746.9 961.6,748.4 963.1,748.5 964.6,748.7 966.0,750.6 967.5,750.3 969.0,751.1 970.5,751.3 972.0,752.6 973.5,753.5 975.0,754.3 976.4,754.6 977.9,755.8 979.4,755.7 980.9,756.9 982.4,757.3 983.9,758.6 985.3,758.7 986.8,759.5 988.3,760.6 989.8,761.7 991.3,762.1 992.8,763.4 994.2,764.1 995.7,765.3 997.2,765.9 998.7,766.8 1000.2,767.9 1001.6,767.9 1003.1,768.6 1004.6,770.4 1006.1,769.9 1007.6,771.6 1009.0,772.2 1010.5,772.1 1012.0,773.6 1013.5,775.0 1015.0,776.0 1016.5,776.4 1017.9,777.4 1019.4,778.4 1020.9,778.2 1022.4,779.7 1023.9,780.5 1025.3,781.9 1026.8,782.8 1028.3,783.7 1029.8,784.0 1031.2,784.9 1032.7,786.2 1034.1,786.7 1035.5,787.5 1036.9,787.5 1038.4,788.0 1039.8,789.0 1041.2,790.1 1042.7,790.5 1044.1,792.5 1045.5,792.8 1047.0,793.7 1048.4,794.5 1049.8,795.4 1051.2,795.9 1052.7,795.9 1054.1,797.5 1055.6,798.6 1057.1,799.2 1058.6,799.5 1060.0,800.2 1061.5,801.1 1063.0,800.8 1064.5,802.5 1066.0,802.4 1067.5,802.8 1069.0,803.7 1070.4,805.1 1071.9,804.9 1073.4,806.5 1074.9,807.5 1076.4,807.4 1077.9,807.9 1079.3,808.7 1080.8,809.7 1082.3,810.5 1083.8,810.9 1085.3,811.6 1086.8,811.3 1088.3,812.1 1089.7,812.9 1091.2,814.4 1092.7,814.3 1094.2,815.3 1095.7,816.1 1097.2,815.9 1098.7,816.7 1100.1,817.8 1101.6,819.1 1103.1,819.8 1104.6,820.5 1106.1,820.6 1107.6,821.7 1109.1,822.3 1110.5,823.0 1112.0,823.1 1113.5,825.1 1115.0,824.7 1116.5,826.6 1118.0,827.3 1119.4,826.5 1120.9,827.9 1122.4,829.2 1123.9,829.4 1125.4,830.9 1126.9,830.7 1128.4,831.1 1129.8,831.8 1131.3,833.6 1132.8,833.2 1134.3,834.5 1135.8,834.5 1137.3,835.8 1138.8,837.2 1140.2,836.6 1141.7,838.4 1143.2,838.6 1144.7,839.9 1146.2,840.3 1147.7,840.3 1149.1,842.0 1150.6,842.1 1152.1,842.0 1153.6,843.5 1155.0,843.5 1156.4,845.1 1157.8,845.8 1159.2,846.3 1160.6,846.9 1162.0,848.0 1163.4,848.7 1164.8,850.3 1166.1,849.8 1167.5,851.8 1168.9,852.7 1170.3,852.3 1171.7,854.4 1173.1,854.9 1174.5,856.0 1175.9,856.1 1177.1,857.0 1178.4,858.4 1179.6,859.6 1180.8,861.8 1182.1,862.4 1183.3,863.5 1184.4,864.6 1185.5,866.1 1186.5,867.2 1187.6,868.2 1188.7,869.6 1189.8,872.2 1190.9,872.6 1192.0,875.0 1193.0,875.3 1194.1,876.7 1195.2,878.4 1196.7,879.2 1198.2,879.4 1199.6,880.4 1201.1,882.1 1202.6,882.7 1204.0,883.3 1205.5,883.8 1207.0,884.3 1207.8,882.0 1208.5,879.8 1208.8,881.5 1209.0,883.3 1209.2,885.0 1209.5,886.7 1209.8,888.5 1210.0,890.2 1211.8,891.2 1213.7,891.7 1215.6,891.4 1217.4,891.7 1218.7,890.9 1220.0,888.8 1221.3,888.7 1222.6,887.2 1223.9,886.5 1225.2,885.3 1226.5,883.6 1227.8,882.8 1229.5,882.7 1231.2,884.8 1232.9,884.1 1234.6,885.3 1236.3,885.8 1238.0,886.3 1239.7,887.3 1241.0,888.8 1242.3,890.3 1243.6,890.3 1244.9,892.0 1246.2,892.5 1247.5,894.1 1248.8,894.9 1250.1,896.2 1251.8,896.2 1253.6,896.6 1255.3,897.2 1257.0,898.8 1258.8,898.6 1260.5,899.1 1261.9,899.5 1263.3,901.5 1264.6,902.4 1266.0,902.4 1267.4,902.8 1268.8,903.7 1270.2,904.4 1271.5,905.6 1272.9,906.1 1274.3,907.2 1275.7,908.1 1277.0,909.4 1278.4,910.8 1279.8,911.0 1281.3,912.1 1282.8,912.3 1284.2,913.1 1285.7,914.0 1287.2,914.5 1288.7,915.2 1290.2,915.5 1291.7,916.6 1293.1,918.4 1294.6,917.8 1296.1,919.2 1297.6,919.9 1299.0,921.0 1300.4,922.4 1301.7,922.3 1303.1,923.3 1304.5,924.2 1305.9,925.4 1307.3,926.4 1308.6,928.1 1310.0,928.9 1311.4,929.9 1312.8,929.5 1314.2,930.4 1315.5,932.5 1316.9,933.7 1318.3,934.0 1319.7,935.1 1321.1,935.1 1322.4,936.6 1323.8,938.4 1325.2,938.7 1326.6,940.1 1328.0,941.0 1329.4,942.1 1330.8,941.8 1332.2,942.5 1333.6,943.4 1335.0,944.9 1336.4,946.0 1337.8,947.3 1339.2,947.8 1340.6,948.6 1342.0,949.6 1343.5,950.0 1344.9,951.0 1346.3,951.1 1347.7,953.2 1349.1,953.2 1350.5,955.1 1351.9,955.6 1353.3,955.9 1354.7,956.5 1356.1,957.6 1357.5,959.1 1358.9,960.0 1360.3,960.6 1361.7,960.8 1363.2,961.5 1364.6,963.1 1366.0,964.0 1367.5,964.5 1368.9,965.0 1370.3,966.5 1371.8,966.3 1373.2,967.6 1374.6,968.7 1376.1,970.3 1377.5,970.6 1378.9,971.8 1380.4,972.0 1381.8,972.4 1383.2,973.2 1384.7,975.2 1386.1,975.6 1387.5,975.8 1389.0,976.1 1390.4,977.7 1391.8,978.8 1393.3,979.2 1394.7,979.8 1396.1,981.2 1397.6,982.5 1399.0,982.6 1400.5,982.9 1402.0,983.4 1403.5,984.6 1405.0,985.5 1406.5,986.7 1408.0,986.7 1409.5,988.4 1411.1,989.0 1412.6,989.4 1414.1,989.7 1415.6,991.7 1417.1,991.4 1418.6,993.0 1420.1,993.2 1421.4,993.8 1422.6,994.8 1423.9,996.6 1425.1,996.9 1426.4,998.9 1427.6,999.2 1428.9,999.7 1430.2,1000.8 1431.4,1002.1 1432.7,1003.5 1433.9,1004.9 1435.2,1004.6 1436.4,1006.0 1437.7,1007.2 1439.1,1007.6 1440.5,1009.7 1441.9,1009.3 1443.3,1010.0 1444.7,1010.9 1446.1,1012.3 1447.5,1014.0 1448.9,1014.9 1450.3,1015.5 1451.7,1016.0 1453.0,1017.8 1454.2,1018.7 1455.5,1018.7 1456.7,1019.5 1458.0,1021.7 1459.2,1022.4 1460.5,1022.3 1461.8,1024.3 1463.0,1024.9 1464.3,1025.9 1465.5,1026.8 1466.8,1027.6 1468.0,1028.3 1469.3,1030.1 1470.3,1031.0 1471.3,1032.4 1472.3,1034.6 1473.3,1034.5 1474.3,1037.1 1475.3,1037.2 1476.3,1038.9 1478.1,1038.7 1479.8,1039.4 1481.6,1039.4 1483.4,1038.9 1484.7,1039.8 1485.9,1040.2 1487.2,1041.9 1488.4,1042.7 1489.7,1044.6 1490.9,1044.4 1492.2,1045.7 1493.4,1047.5 1494.7,1047.1 1495.9,1048.8 1497.2,1050.4 1498.4,1051.3 1499.7,1051.2 1500.9,1052.9 1501.8,1053.7 1502.7,1055.3 1503.6,1058.2 1504.5,1058.7 1505.3,1061.0 1506.2,1062.8 1507.1,1063.4 1508.0,1065.2 1509.5,1065.6 1510.9,1067.4 1512.4,1067.6 1513.8,1067.8 1515.3,1069.2 1516.8,1069.3 1518.2,1070.0 1519.7,1070.3 1521.1,1072.2 1522.6,1073.2 1524.0,1073.5 1525.5,1074.0 1526.5,1076.1 1527.5,1076.0 1528.5,1077.7 1529.5,1079.5 1530.5,1081.7 1531.5,1083.0 1532.5,1083.5 1533.6,1084.7 1534.6,1086.4 1535.6,1087.8 1536.6,1089.9 1537.6,1090.1 1538.6,1092.5 1539.6,1093.4 1540.6,1095.2 1541.5,1096.8 1542.5,1098.1 1543.5,1099.3 1544.4,1100.3 1545.4,1101.7 1546.3,1103.2 1547.3,1105.3 1548.3,1105.7 1549.2,1107.3 1550.2,1109.2 1551.4,1110.8 1552.5,1111.1 1553.7,1112.0 1554.9,1113.1 1556.0,1115.1 1557.2,1115.9 1558.4,1118.1 1559.5,1119.1 1560.7,1120.5 1561.9,1120.5 1563.0,1121.4 1564.2,1123.2 1565.6,1123.4 1567.1,1124.8 1568.5,1125.9 1569.9,1126.3 1571.4,1126.8 1572.8,1127.9 1574.3,1129.0 1575.7,1129.9 1577.1,1130.8 1578.6,1131.8 1580.0,1132.0 1580.9,1133.7 1581.8,1134.3 1582.7,1136.9 1583.5,1137.5 1584.4,1139.4 1585.3,1140.6 1586.2,1142.6 1587.1,1143.3 1587.9,1144.8 1588.8,1146.3 1589.7,1147.6 1590.6,1149.6 1591.2,1151.2 1591.8,1152.8 1592.3,1154.4 1592.9,1156.0 1593.5,1157.6 1594.1,1159.2 1594.7,1160.9 1595.3,1162.5 1595.8,1164.1 1596.4,1165.7 1597.0,1167.3 1597.6,1168.9 1598.2,1170.5 1598.8,1172.1 1599.3,1173.8 1599.9,1175.4 1600.5,1177.0 1601.1,1178.6 1601.7,1180.2 1602.3,1181.8 1602.8,1183.5 1603.4,1185.1 1604.0,1186.7 1604.6,1188.3 1605.7,1190.5 1606.8,1191.7 1607.8,1192.9 1608.9,1194.8 1609.6,1196.3 1610.4,1197.8 1611.1,1199.3 1611.8,1200.8 1612.6,1202.2 1613.3,1203.7 1614.1,1205.2 1614.8,1206.7 1615.4,1208.2 1616.1,1209.7 1616.7,1211.2 1617.4,1212.6 1618.0,1214.1 1618.7,1215.6 1619.3,1217.1 1620.5,1218.2 1621.8,1220.4 1623.0,1220.8 1624.2,1221.6 1625.5,1223.8 1626.7,1224.5 1628.2,1225.5 1629.7,1226.8 1631.2,1226.1 1632.6,1227.4 1634.1,1228.7 1635.6,1229.5 1637.1,1230.4 1638.6,1229.7 1640.0,1230.8 1641.5,1231.3 1643.0,1232.2 1644.5,1233.4 1646.1,1234.5 1647.7,1234.3 1649.3,1235.2 1650.9,1234.7 1652.5,1235.8 1654.1,1235.5 1655.7,1235.6 1657.2,1236.8 1658.8,1237.5 1660.4,1236.5 1662.0,1237.6 1663.6,1238.0 1665.2,1237.8 1666.8,1238.6 1668.5,1238.4 1670.1,1238.1 1671.8,1238.3 1673.4,1238.4 1675.1,1239.0 1676.8,1239.1 1678.4,1238.5 1680.1,1238.2 1681.7,1238.7 1683.4,1239.4 1685.0,1238.6 1686.7,1238.9 1688.4,1238.7 1690.0,1239.7 1691.7,1239.4 1693.3,1238.7 1695.0,1239.4 1696.6,1239.3 1698.2,1240.3 1699.9,1241.1 1701.5,1241.8 1703.1,1241.4 1704.7,1242.1 1706.3,1243.5 1707.9,1243.5 1709.6,1243.9 1711.2,1244.5 1712.8,1245.3 1714.0,1247.3 1715.1,1247.6 1716.3,1249.4 1717.4,1250.4 1718.6,1251.8 1719.7,1253.8 1720.9,1255.4 1722.0,1255.7 1723.2,1257.2 1724.1,1258.1 1725.1,1260.3 1726.0,1260.8 1727.0,1261.8 1727.9,1264.6 1728.9,1265.2 1729.8,1267.1 1730.8,1267.8 1731.7,1269.9 1732.7,1270.6 1733.6,1272.0 1734.5,1272.8 1735.4,1274.0 1736.3,1276.2 1737.3,1277.7 1738.2,1279.5 1739.1,1279.6 1740.0,1281.8 1740.9,1282.7 1741.8,1284.3 1742.8,1285.1 1743.7,1286.7 1744.6,1288.5 1745.5,1289.8 1746.4,1292.0 1747.2,1292.2 1748.1,1294.3 1749.0,1296.3 1749.8,1298.0 1750.7,1298.3 1751.6,1299.6 1752.4,1302.4 1753.3,1304.0 1754.2,1304.7 1755.0,1305.5 1755.9,1307.7 1756.8,1309.8 1757.7,1310.3 1758.6,1312.5 1759.4,1313.4 1760.3,1315.1 1761.2,1315.4 1762.1,1317.8 1763.0,1318.3 1763.9,1320.0 1764.8,1322.1 1765.7,1323.4 1766.5,1323.8 1767.4,1325.2 1768.3,1326.9 1769.2,1328.4 1770.3,1329.8 1771.4,1330.9 1772.4,1331.9 1773.5,1333.4 1774.6,1335.5 1775.7,1337.2 1776.8,1337.1 1777.9,1339.3 1778.9,1341.0 1780.0,1341.2 1781.1,1343.3 1782.4,1344.7 1783.8,1344.5 1785.1,1346.1 1786.5,1346.9 1787.8,1348.0 1789.1,1348.3 1790.5,1349.4 1791.8,1350.6 1793.2,1351.2 1794.5,1352.2 1796.1,1352.5 1797.8,1352.3 1799.4,1352.3 1801.0,1351.7 1802.7,1352.7 1804.3,1352.6 1805.9,1352.3 1807.5,1353.2 1809.2,1353.3 1810.8,1352.9 1812.3,1351.8 1813.8,1350.4 1815.3,1349.8 1816.8,1348.2 1818.2,1347.2 1819.7,1346.7 1821.2,1345.2 1822.7,1344.8 1824.2,1344.0 1825.7,1343.3 1827.1,1341.8 1828.6,1342.0 1830.1,1340.4 1831.6,1340.7 1833.1,1340.0 1834.5,1338.9 1836.0,1337.4 1837.5,1337.4 1839.0,1336.4 1840.5,1336.6 1841.9,1334.5 1843.4,1334.9 1844.9,1334.4 1846.4,1333.3 1847.9,1332.6 1849.3,1330.9 1850.8,1331.4 1852.3,1329.9 1853.5,1328.8 1854.8,1328.4 1856.0,1327.2 1857.3,1324.9 1858.5,1324.8 1859.8,1323.9 1861.0,1321.4 1862.2,1320.8 1863.5,1320.3 1864.7,1318.3 1866.0,1318.3 1867.2,1316.6 1868.3,1315.0 1869.4,1314.7 1870.4,1312.4 1871.5,1311.7 1872.6,1311.2 1873.7,1308.8 1874.8,1307.7 1875.9,1306.9 1876.9,1305.3 1878.0,1303.7 1879.1,1303.2 1880.5,1301.6 1881.8,1300.6 1883.2,1300.8 1884.6,1299.3 1886.0,1298.6 1887.3,1296.4 1888.7,1295.9 1890.1,1295.3 1891.4,1293.1 1892.8,1292.7 1894.2,1291.8 1895.5,1290.2 1896.9,1290.0 1898.2,1288.4 1899.6,1287.2 1901.2,1287.1 1902.9,1287.4 1904.5,1285.9 1906.1,1287.1 1907.8,1286.3 1909.4,1285.7 1911.0,1286.1 1912.6,1285.1 1914.3,1286.0 1915.9,1285.0 1917.5,1285.7 1919.2,1285.9 1920.8,1287.1 1922.5,1287.1 1924.1,1287.2 1925.7,1288.7 1927.4,1288.1 1929.0,1289.9 1930.7,1289.6 1932.3,1290.5 1933.9,1291.4 1935.5,1292.6 1937.2,1292.7 1938.8,1293.5 1940.4,1293.6 1942.0,1293.8 1943.7,1294.5 1945.3,1295.9 1945.8,1297.6 1946.4,1299.4 1946.9,1301.1 1947.5,1302.9 1948.0,1304.6 1948.5,1303.0 1949.0,1301.3 1949.4,1299.7 1949.9,1298.1 1950.4,1296.5 1950.8,1294.8 1951.3,1293.2 1951.8,1291.6 1952.8,1292.3 1953.8,1294.3 1954.8,1295.3 1955.8,1296.6 1956.8,1298.5 1957.8,1298.5 1958.9,1299.9 1959.9,1301.9 1960.9,1302.1 1961.9,1303.3 1962.9,1305.2 1963.9,1306.0 1964.9,1307.9 1966.8,1307.9 1968.7,1308.0 1970.6,1308.9 1972.5,1309.0 1974.0,1310.0 1975.5,1310.3 1977.0,1311.9 1978.5,1312.5 1980.0,1312.9 1981.4,1315.0 1982.9,1314.8 1984.4,1315.6 1985.9,1316.4 1987.4,1318.1 1988.9,1318.8 1990.4,1320.2 1992.0,1320.8 1993.5,1321.0 1995.1,1321.5 1996.6,1321.9 1998.2,1323.7 1999.7,1324.2 2000.6,1325.9 2001.6,1327.1 2002.5,1329.1 2003.5,1330.3 2004.4,1332.7 2005.4,1333.9 2006.3,1335.1 2006.6,1333.5 2006.9,1331.8 2007.3,1330.2 2007.6,1328.6 2007.9,1326.9 2008.2,1325.3 2008.5,1323.7 2008.9,1322.1 2009.2,1320.4 2009.5,1318.8 2010.0,1320.4 2010.4,1321.9 2010.9,1323.5 2011.4,1325.0 2011.9,1326.6 2012.3,1328.1 2012.8,1329.7 2014.3,1330.1 2015.8,1331.9 2017.3,1331.2 2018.8,1332.8 2020.3,1333.3 2021.8,1333.8 2023.4,1334.3 2024.9,1336.2 2026.4,1335.7 2027.9,1337.3 2029.4,1338.7 2030.9,1338.2 2032.4,1339.5 2034.0,1339.9 2035.5,1341.5 2037.1,1342.3 2038.6,1343.4 2040.2,1344.6 2041.7,1344.6 2043.3,1346.0 2044.8,1346.4 2046.3,1347.1 2047.7,1347.4 2049.2,1349.4 2050.7,1349.9 2052.2,1350.5 2053.7,1350.0 2055.2,1352.1 2056.6,1352.6 2058.1,1352.9 2059.6,1353.6 2061.0,1354.9 2062.3,1355.4 2063.7,1356.0 2065.1,1356.8 2066.4,1357.9 2067.8,1358.6 2069.1,1360.0 2070.5,1361.2 2072.0,1362.2 2073.5,1362.7 2075.1,1363.6 2076.6,1363.9 2078.1,1363.8 2079.6,1364.9 2081.1,1365.3 2082.7,1366.5 2084.2,1366.6 2085.7,1367.2" stroke-width="4.5"/>
<polyline points="225.9,541.6 227.4,540.5 228.9,539.5 230.4,540.3 231.9,539.3 233.6,538.0 235.4,539.2 237.1,538.6 238.8,537.6 240.6,538.7 242.3,538.6 243.8,538.0 245.2,539.9 246.7,539.6 248.2,540.4 249.7,542.1 251.2,543.9 252.6,542.7 254.1,544.5 255.7,544.2 257.4,545.9 259.0,547.3 260.7,546.8 262.3,546.8 263.9,549.0 265.6,546.9 267.2,549.7 268.9,548.6 270.5,549.7 272.1,548.9 273.7,549.0 275.4,549.8 277.0,551.4 278.6,549.9 280.2,551.2 281.8,551.6 283.4,551.0 285.1,551.7 286.7,550.6 288.3,552.0 289.9,550.5 291.6,550.7 293.2,551.7 294.9,550.8 296.5,550.2 298.2,550.7 299.8,550.1 301.5,549.4 303.1,549.7 304.8,550.3 306.4,549.9 308.1,548.4 309.7,549.1 311.4,548.8 313.0,548.5 313.1,550.2 313.2,552.0 313.4,553.7 313.5,555.4 313.6,557.1 313.8,558.8 313.9,560.6 314.0,562.3 314.1,560.5 314.2,558.8 314.4,557.0 314.5,555.3 314.6,553.5 314.8,551.8 314.9,550.0 315.0,548.3 316.6,549.1 318.2,548.4 319.7,546.9 321.3,548.6 322.9,546.0 324.5,546.6 326.1,547.2 327.6,545.3 329.2,546.0 330.8,544.5 332.4,546.0 334.0,546.0 335.5,545.2 337.1,545.8 338.7,544.5 340.3,543.9 342.0,544.9 343.6,544.5 345.3,544.4 346.9,544.0 348.6,545.0 350.2,545.2 351.9,543.8 353.5,544.2 355.2,542.4 356.8,544.1 358.5,543.9 360.1,544.8 361.8,544.2 363.4,542.6 365.1,542.8 366.8,543.6 368.4,543.0 370.0,541.7 371.7,542.9 373.3,542.1 375.0,541.9 376.6,541.8 378.3,543.8 379.9,542.0 381.6,542.3 383.2,542.7 384.9,544.0 386.6,541.8 388.2,542.9 389.9,543.1 391.5,544.1 393.2,543.9 394.8,544.0 396.5,542.4 398.1,543.0 399.8,542.9 401.4,542.8 403.1,544.3 404.7,544.6 406.4,542.5 408.0,542.6 409.7,542.9 411.3,543.0 413.0,543.8 414.6,544.0 416.3,544.6 417.9,544.0 419.6,543.6 421.2,545.0 422.9,545.2 424.6,546.0 426.2,547.4 427.9,546.9 429.5,546.7 431.1,547.3" stroke-width="7.2"/>
<polyline points="431.1,547.3 432.8,547.8 434.4,546.3 436.1,549.0 437.8,548.9 439.4,549.5 441.1,549.5 442.7,549.0 444.3,549.2 445.9,549.7 447.6,549.3 449.2,551.3 450.8,550.1 452.4,550.6 454.0,551.5 455.6,551.8" stroke-width="6.0"/>
<polyline points="455.6,551.8 457.3,552.8 458.9,552.5 460.5,554.2 462.0,553.6 463.5,554.8 464.9,555.5 466.4,557.0 467.9,556.9 469.4,560.0 470.9,560.0 472.4,560.0 473.9,561.0 475.3,562.0 476.8,562.8 478.3,563.8 479.5,564.4 480.7,566.8 481.9,568.2" stroke-width="5.2"/>
<polyline points="1886.0,1298.6 1887.3,1296.4 1888.7,1295.9 1890.1,1295.3 1891.4,1293.1 1892.8,1292.7 1894.2,1291.8 1895.5,1290.2 1896.9,1290.0 1898.2,1288.4 1899.6,1287.2 1901.2,1287.1 1902.9,1287.4 1904.5,1285.9 1906.1,1287.1 1907.8,1286.3 1909.4,1285.7 1911.0,1286.1 1912.6,1285.1 1914.3,1286.0 1915.9,1285.0 1917.5,1285.7 1919.2,1285.9 1920.8,1287.1 1922.5,1287.1 1924.1,1287.2 1925.7,1288.7 1927.4,1288.1 1929.0,1289.9 1930.7,1289.6 1932.3,1290.5 1933.9,1291.4 1935.5,1292.6 1937.2,1292.7 1938.8,1293.5 1940.4,1293.6 1942.0,1293.8 1943.7,1294.5 1945.3,1295.9 1945.8,1297.6 1946.4,1299.4 1946.9,1301.1 1947.5,1302.9 1948.0,1304.6 1948.5,1303.0 1949.0,1301.3 1949.4,1299.7 1949.9,1298.1 1950.4,1296.5 1950.8,1294.8 1951.3,1293.2 1951.8,1291.6 1952.8,1292.3 1953.8,1294.3 1954.8,1295.3 1955.8,1296.6 1956.8,1298.5 1957.8,1298.5 1958.9,1299.9 1959.9,1301.9 1960.9,1302.1 1961.9,1303.3 1962.9,1305.2 1963.9,1306.0 1964.9,1307.9 1966.8,1307.9 1968.7,1308.0 1970.6,1308.9 1972.5,1309.0 1974.0,1310.0 1975.5,1310.3 1977.0,1311.9 1978.5,1312.5 1980.0,1312.9 1981.4,1315.0 1982.9,1314.8 1984.4,1315.6 1985.9,1316.4 1987.4,1318.1 1988.9,1318.8 1990.4,1320.2 1992.0,1320.8 1993.5,1321.0 1995.1,1321.5 1996.6,1321.9 1998.2,1323.7 1999.7,1324.2 2000.6,1325.9 2001.6,1327.1 2002.5,1329.1 2003.5,1330.3 2004.4,1332.7 2005.4,1333.9 2006.3,1335.1 2006.6,1333.5 2006.9,1331.8 2007.3,1330.2 2007.6,1328.6 2007.9,1326.9 2008.2,1325.3 2008.5,1323.7 2008.9,1322.1 2009.2,1320.4 2009.5,1318.8 2010.0,1320.4 2010.4,1321.9 2010.9,1323.5 2011.4,1325.0 2011.9,1326.6 2012.3,1328.1 2012.8,1329.7 2014.3,1330.1 2015.8,1331.9 2017.3,1331.2 2018.8,1332.8 2020.3,1333.3 2021.8,1333.8 2023.4,1334.3 2024.9,1336.2 2026.4,1335.7 2027.9,1337.3 2029.4,1338.7 2030.9,1338.2 2032.4,1339.5 2034.0,1339.9 2035.5,1341.5 2037.1,1342.3 2038.6,1343.4 2040.2,1344.6 2041.7,1344.6 2043.3,1346.0 2044.8,1346.4 2046.3,1347.1 2047.7,1347.4 2049.2,1349.4 2050.7,1349.9 2052.2,1350.5 2053.7,1350.0 2055.2,1352.1 2056.6,1352.6 2058.1,1352.9 2059.6,1353.6 2061.0,1354.9 2062.3,1355.4 2063.7,1356.0 2065.1,1356.8 2066.4,1357.9 2067.8,1358.6 2069.1,1360.0 2070.5,1361.2 2072.0,1362.2 2073.5,1362.7 2075.1,1363.6 2076.6,1363.9 2078.1,1363.8 2079.6,1364.9 2081.1,1365.3 2082.7,1366.5 2084.2,1366.6 2085.7,1367.2" stroke-width="5.4"/>
</g>
</g>
<g id="frame" stroke="#262a2a" stroke-width="3.9" fill="none">
<rect x="224.7" y="250.7" width="1861.2" height="1407.5" stroke-linejoin="round"/>
<line x1="490.6" y1="1628.0" x2="490.6" y2="1658.2" stroke="#1a1c1c" stroke-linecap="round"/>
<line x1="756.5" y1="1628.0" x2="756.5" y2="1658.2" stroke="#1a1c1c" stroke-linecap="round"/>
<line x1="1022.4" y1="1628.0" x2="1022.4" y2="1658.2" stroke="#1a1c1c" stroke-linecap="round"/>
<line x1="1288.2" y1="1628.0" x2="1288.2" y2="1658.2" stroke="#1a1c1c" stroke-linecap="round"/>
<line x1="1554.1" y1="1628.0" x2="1554.1" y2="1658.2" stroke="#1a1c1c" stroke-linecap="round"/>
<line x1="1820.0" y1="1628.0" x2="1820.0" y2="1658.2" stroke="#1a1c1c" stroke-linecap="round"/>
</g>
<g id="arrows">
<line x1="898.9" y1="505.8" x2="861.6" y2="655.5" stroke="#000" stroke-width="5" stroke-linecap="round"/>
<polygon points="849.7,704.7 840.8,647.3 882.5,663.7" fill="#000" stroke="#000" stroke-width="1.5" stroke-linejoin="round"/>
<line x1="546.6" y1="965.0" x2="635.9" y2="854.6" stroke="#000" stroke-width="5" stroke-linecap="round"/>
<polygon points="666.2,817.2 620.8,836.0 651.0,873.1" fill="#000" stroke="#000" stroke-width="1.5" stroke-linejoin="round"/>
<line x1="1403.6" y1="1249.9" x2="1574.6" y2="1223.3" stroke="#000" stroke-width="5" stroke-linecap="round"/>
<polygon points="1615.1,1217.7 1571.8,1197.3 1577.4,1249.3" fill="#000" stroke="#000" stroke-width="1.5" stroke-linejoin="round"/>
<line x1="1669.3" y1="1416.3" x2="1747.9" y2="1376.8" stroke="#000" stroke-width="5" stroke-linecap="round"/>
<polygon points="1787.3,1356.9 1739.4,1353.0 1756.4,1400.5" fill="#000" stroke="#000" stroke-width="1.5" stroke-linejoin="round"/>
</g>
<line id="leg1" x1="1398.7" y1="336.1" x2="1443.4" y2="336.1" stroke="#262a2a" stroke-width="3.8"/>
<line id="leg2" x1="1398.7" y1="476.4" x2="1443.4" y2="476.4" stroke="#ff1010" stroke-width="3.8"/>
<g id="texts" fill="#000">
<text id="title" x="553.5" y="127.5" font-family="'Liberation Serif','Times New Roman',serif" font-weight="bold" font-size="117.0" textLength="1120.4" lengthAdjust="spacingAndGlyphs">FT-IR Spectra of MWCNT</text>
<text id="ylabel" x="98.1" y="1368.0" font-family="'Liberation Serif','Times New Roman',serif" font-weight="bold" font-size="89.0" textLength="915.2" lengthAdjust="spacingAndGlyphs" transform="rotate(-90 98.1 1368.0)">Transmittance (a. u.)</text>
<text id="t500" x="158.0" y="1811.3" font-family="'Liberation Serif','Times New Roman',serif" font-weight="bold" font-size="106.4" textLength="133.2" lengthAdjust="spacingAndGlyphs">500</text>
<text id="t1000" x="397.7" y="1811.3" font-family="'Liberation Serif','Times New Roman',serif" font-weight="bold" font-size="106.4" textLength="181.7" lengthAdjust="spacingAndGlyphs">1000</text>
<text id="t1500" x="664.1" y="1811.3" font-family="'Liberation Serif','Times New Roman',serif" font-weight="bold" font-size="106.4" textLength="180.6" lengthAdjust="spacingAndGlyphs">1500</text>
<text id="t2000" x="933.5" y="1811.3" font-family="'Liberation Serif','Times New Roman',serif" font-weight="bold" font-size="106.4" textLength="177.3" lengthAdjust="spacingAndGlyphs">2000</text>
<text id="t2500" x="1199.0" y="1811.3" font-family="'Liberation Serif','Times New Roman',serif" font-weight="bold" font-size="106.4" textLength="178.3" lengthAdjust="spacingAndGlyphs">2500</text>
<text id="t3000" x="1465.4" y="1811.3" font-family="'Liberation Serif','Times New Roman',serif" font-weight="bold" font-size="106.4" textLength="177.3" lengthAdjust="spacingAndGlyphs">3000</text>
<text id="t3500" x="1731.8" y="1811.3" font-family="'Liberation Serif','Times New Roman',serif" font-weight="bold" font-size="106.4" textLength="176.2" lengthAdjust="spacingAndGlyphs">3500</text>
<text id="t4000" x="1999.3" y="1811.3" font-family="'Liberation Serif','Times New Roman',serif" font-weight="bold" font-size="106.4" textLength="175.1" lengthAdjust="spacingAndGlyphs">4000</text>
<text id="xlab" x="791.5" y="1937.4" font-family="'Liberation Serif','Times New Roman',serif" font-weight="bold" font-size="106.0" textLength="507.4" lengthAdjust="spacingAndGlyphs">Wavenumber</text>
<text id="xlab_po" x="1298.5" y="1936.5" font-family="'Liberation Serif','Times New Roman',serif" font-weight="bold" font-size="100.7" textLength="31.3" lengthAdjust="spacingAndGlyphs">(</text>
<text id="xlab_cm" x="1327.5" y="1937.4" font-family="'Liberation Serif','Times New Roman',serif" font-weight="bold" font-size="106.0" textLength="113.4" lengthAdjust="spacingAndGlyphs">cm</text>
<text id="xlab_sup" x="1439.0" y="1907.0" font-family="'Liberation Serif','Times New Roman',serif" font-weight="bold" font-size="73.4" textLength="47.7" lengthAdjust="spacingAndGlyphs">-1</text>
<text id="xlab_par" x="1486.5" y="1936.5" font-family="'Liberation Serif','Times New Roman',serif" font-weight="bold" font-size="100.7" textLength="33.3" lengthAdjust="spacingAndGlyphs">)</text>
<text id="leg_mw" x="1446.5" y="363.1" font-family="'Liberation Serif','Times New Roman',serif" font-weight="bold" font-size="87.3" textLength="286.8" lengthAdjust="spacingAndGlyphs">MWCNT</text>
<text id="leg_fmw" x="1447.0" y="503.4" font-family="'Liberation Serif','Times New Roman',serif" font-weight="bold" font-size="87.3" textLength="328.8" lengthAdjust="spacingAndGlyphs">FMWCNT</text>
<text id="a1650" x="799.2" y="340.0" font-family="Carlito,Calibri,'Liberation Sans',sans-serif" font-weight="bold" font-size="88.5" textLength="257.0" lengthAdjust="spacingAndGlyphs">1650 cm</text>
<text id="a1650s" x="1056.0" y="295.0" font-family="Carlito,Calibri,'Liberation Sans',sans-serif" font-weight="bold" font-size="55.7" textLength="38.9" lengthAdjust="spacingAndGlyphs">-1</text>
<text id="a1650b" x="861.0" y="466.0" font-family="Carlito,Calibri,'Liberation Sans',sans-serif" font-weight="bold" font-size="85.7" textLength="172.3" lengthAdjust="spacingAndGlyphs">(C=O)</text>
<text id="a1450" x="311.6" y="1085.8" font-family="Carlito,Calibri,'Liberation Sans',sans-serif" font-weight="bold" font-size="88.5" textLength="258.1" lengthAdjust="spacingAndGlyphs">1450 cm</text>
<text id="a1450s" x="570.5" y="1040.0" font-family="Carlito,Calibri,'Liberation Sans',sans-serif" font-weight="bold" font-size="55.7" textLength="37.3" lengthAdjust="spacingAndGlyphs">-1</text>
<text id="a1450b" x="338.5" y="1212.0" font-family="Carlito,Calibri,'Liberation Sans',sans-serif" font-weight="bold" font-size="86.2" textLength="246.1" lengthAdjust="spacingAndGlyphs">(O-C=O)</text>
<text id="a3200" x="1025.0" y="1271.7" font-family="Carlito,Calibri,'Liberation Sans',sans-serif" font-weight="bold" font-size="88.5" textLength="258.1" lengthAdjust="spacingAndGlyphs">3200 cm</text>
<text id="a3200s" x="1283.0" y="1227.5" font-family="Carlito,Calibri,'Liberation Sans',sans-serif" font-weight="bold" font-size="56.6" textLength="41.6" lengthAdjust="spacingAndGlyphs">-1</text>
<text id="a3200b" x="1090.0" y="1398.5" font-family="Carlito,Calibri,'Liberation Sans',sans-serif" font-weight="bold" font-size="88.2" textLength="166.7" lengthAdjust="spacingAndGlyphs">(O-H)</text>
<text id="a3450" x="1346.6" y="1475.8" font-family="Carlito,Calibri,'Liberation Sans',sans-serif" font-weight="bold" font-size="88.5" textLength="257.8" lengthAdjust="spacingAndGlyphs">3450 cm</text>
<text id="a3450s" x="1605.5" y="1430.0" font-family="Carlito,Calibri,'Liberation Sans',sans-serif" font-weight="bold" font-size="55.7" textLength="37.3" lengthAdjust="spacingAndGlyphs">-1</text>
<text id="a3450b" x="1412.5" y="1602.0" font-family="Carlito,Calibri,'Liberation Sans',sans-serif" font-weight="bold" font-size="86.2" textLength="166.6" lengthAdjust="spacingAndGlyphs">(O-H)</text>
</g>
</svg></div></body></html>
